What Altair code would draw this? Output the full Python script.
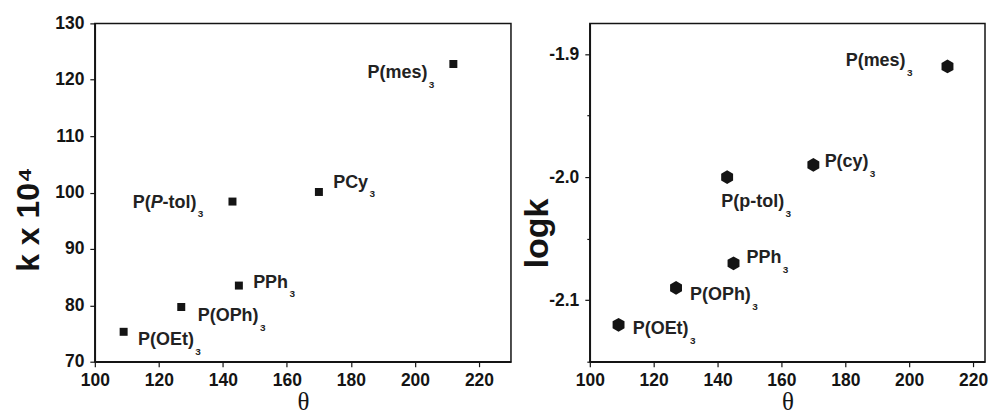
import altair as alt
import pandas as pd

# ---- data ----
lig_left = ["P(OEt)₃", "P(OPh)₃", "PPh₃", "P(P-tol)₃", "PCy₃", "P(mes)₃"]
theta_left = [109, 127, 145, 143, 170, 212]
k_vals = [75.3, 79.7, 83.5, 98.4, 100.1, 122.8]

lig_right = ["P(OEt)₃", "P(OPh)₃", "PPh₃", "P(p-tol)₃", "P(cy)₃", "P(mes)₃"]
theta_right = [109, 127, 145, 143, 170, 212]
logk_vals = [-2.12, -2.09, -2.07, -2.00, -1.99, -1.91]

x_ticks = [100, 110, 120, 130, 140, 150, 160, 170, 180, 190, 200, 210, 220, 230]
yl_ticks = [70, 75, 80, 85, 90, 95, 100, 105, 110, 115, 120, 125, 130]
yr_ticks = [-2.15, -2.1, -2.05, -2.0, -1.95, -1.9]

# ---- label placement (style): offset of label's left edge / caps centre from the point ----
place_left = {
    "P(OEt)₃": (14.5, 7),
    "P(OPh)₃": (16.5, 8),
    "PPh₃": (14.3, -4),
    "P(P-tol)₃": (-100, 0),
    "PCy₃": (14.3, -10.5),
    "P(mes)₃": (-86, 7.8),
}
place_right = {
    "P(OEt)₃": (14.2, 3),
    "P(OPh)₃": (14, 6),
    "PPh₃": (13, -6.4),
    "P(p-tol)₃": (-5.8, 23.7),
    "P(cy)₃": (11.3, -4),
    "P(mes)₃": (-102, -6.8),
}

INK = "#141414"
TXT = "#222222"
FONT = "Liberation Sans"
LFS = 18      # label font size
SFS = 10      # subscript font size
TFS = 17.5    # tick label font size

# Arial/Liberation Sans Bold advance widths (per 1000 em)
ADV = {"P": 667, "(": 333, ")": 333, "O": 778, "E": 667, "t": 333, "h": 611, "m": 889,
       "e": 556, "s": 556, "C": 722, "y": 556, "-": 333, "o": 611, "l": 278, "c": 556, "p": 611}


def seg_width(s, fs):
    return sum(ADV.get(ch, 556) for ch in s) * fs / 1000.0


def split_segments(lig):
    main = lig.replace("₃", "")
    if main == "P(P-tol)":
        return [("P(", "normal"), ("P", "italic"), ("-tol)", "normal")]
    return [(main, "normal")]


def x_axis():
    return alt.Axis(
        values=x_ticks,
        labelExpr="datum.value % 20 == 0 ? datum.label : ''",
        tickSize={"condition": {"test": "datum.value % 20 == 0", "value": 5}, "value": 3},
        grid=False,
        labelFont=FONT, labelFontSize=TFS, labelFontWeight="bold", labelColor=INK,
        labelPadding=5, labelFlush=False, labelOverlap=False,
        title="θ", titleFont="Liberation Serif", titleFontSize=25, titleFontWeight="normal",
        titleColor=INK, titlePadding=0,
        domainColor=INK, domainWidth=1.5, tickColor=INK, tickWidth=1.2,
    )


def panel(df, place, xdom, ydom, yaxis, shape, size, w, h):
    base = alt.Chart(df)
    pts = base.mark_point(filled=True, shape=shape, size=size, color=INK, opacity=1).encode(
        x=alt.X("theta:Q", scale=alt.Scale(domain=xdom, nice=False, zero=False), axis=x_axis()),
        y=alt.Y("v:Q", scale=alt.Scale(domain=ydom, nice=False, zero=False), axis=yaxis),
    )
    layers = [pts]
    for lig, (dx, dyc) in place.items():
        cursor = dx
        base_dy = dyc + 0.716 * LFS / 2
        start = 0
        for seg, style in split_segments(lig):
            layers.append(
                base.transform_filter(alt.datum.lig == lig)
                .transform_calculate(t=f"substring(replace(datum.lig, '₃', ''), {start}, {start + len(seg)})")
                .mark_text(dx=cursor, dy=base_dy, align="left", baseline="alphabetic", font=FONT,
                           fontSize=LFS, fontWeight="bold", fontStyle=style, color=TXT)
                .encode(x="theta:Q", y="v:Q", text="t:N")
            )
            cursor += seg_width(seg, LFS)
            start += len(seg)
        layers.append(
            base.transform_filter(alt.datum.lig == lig)
            .transform_calculate(t="'3'")
            .mark_text(dx=cursor + 1.3, dy=base_dy + 9.5, align="left", baseline="alphabetic",
                       font=FONT, fontSize=SFS, fontWeight="bold", color=TXT)
            .encode(x="theta:Q", y="v:Q", text="t:N")
        )
    return alt.layer(*layers).properties(width=w, height=h)


yl_axis = alt.Axis(
    values=yl_ticks,
    labelExpr="datum.value % 10 == 0 ? datum.label : ''",
    tickSize={"condition": {"test": "datum.value % 10 == 0", "value": 5}, "value": 3},
    grid=False,
    labelFont=FONT, labelFontSize=TFS, labelFontWeight="bold", labelColor=INK,
    labelPadding=6, labelFlush=False, labelOverlap=False,
    title="k x 10⁴", titleFont=FONT, titleFontSize=32, titleFontWeight="bold",
    titleColor=INK, titlePadding=9, titleY=196,
    domainColor=INK, domainWidth=1.5, tickColor=INK, tickWidth=1.2,
)

yr_axis = alt.Axis(
    values=yr_ticks,
    format=".1f",
    labelExpr="abs(round(datum.value * 100)) % 10 == 0 ? replace(datum.label, '\u2212', '-') : ''",
    tickSize={"condition": {"test": "abs(round(datum.value * 100)) % 10 == 0", "value": 5}, "value": 3},
    grid=False,
    labelFont=FONT, labelFontSize=TFS, labelFontWeight="bold", labelColor=INK,
    labelPadding=6, labelFlush=False, labelOverlap=False,
    title="logk", titleFont=FONT, titleFontSize=34, titleFontWeight="bold",
    titleColor=INK, titlePadding=-5.5, titleY=210,
    domainColor=INK, domainWidth=1.5, tickColor=INK, tickWidth=1.2,
)

hexagon = "M0,-1L0.866,-0.5L0.866,0.5L0,1L-0.866,0.5L-0.866,-0.5Z"

df_l = pd.DataFrame({"lig": lig_left, "theta": theta_left, "v": k_vals})
df_r = pd.DataFrame({"lig": lig_right, "theta": theta_right, "v": logk_vals})

left = panel(df_l, place_left, [100, 230], [70, 130], yl_axis, "square", 64, 417, 339)
right = panel(df_r, place_right, [100, 223.75], [-2.15, -1.875], yr_axis, hexagon, 190, 396, 339)

chart = (
    alt.hconcat(left, right, spacing=7)
    .properties(padding={"left": 4, "top": 5, "right": 0, "bottom": 0}, background="white")
    .configure_view(stroke=INK, strokeWidth=1.5)
)

chart.save("out.html", embed_options={"renderer": "svg", "actions": False})
